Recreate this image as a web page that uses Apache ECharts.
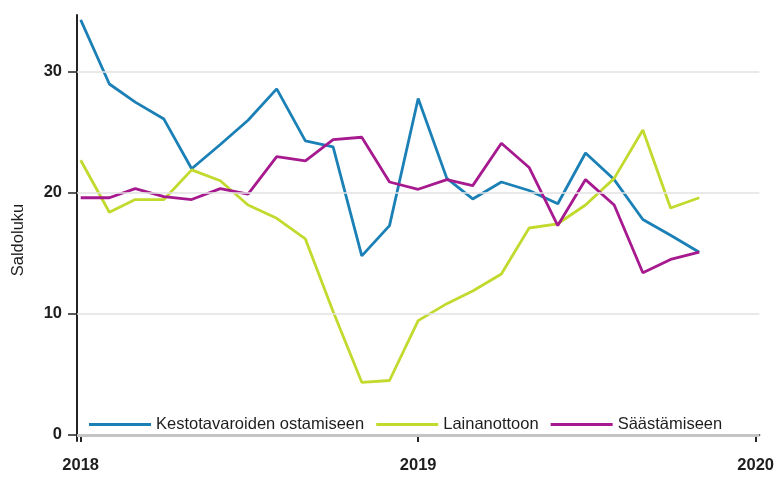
<!DOCTYPE html>
<html>
<head>
<meta charset="utf-8">
<script src="https://cdn.jsdelivr.net/npm/echarts@6/dist/echarts.min.js"></script>
<style>
html,body{margin:0;padding:0;background:#fff;}
#c{width:777px;height:477px;}
</style>
</head>
<body>
<div id="c"></div>
<script>
// Months (first day of month)
var months = ['2018-01','2018-02','2018-03','2018-04','2018-05','2018-06','2018-07','2018-08','2018-09','2018-10','2018-11','2018-12',
              '2019-01','2019-02','2019-03','2019-04','2019-05','2019-06','2019-07','2019-08','2019-09','2019-10','2019-11'];
var seriesNames = ['Kestotavaroiden ostamiseen','Lainanottoon','Säästämiseen'];
var kestotavarat = [34.3,29.0,27.5,26.1,22.0,24.0,26.0,28.6,24.3,23.8,14.8,17.3,27.8,21.2,19.5,20.9,20.2,19.1,23.3,21.1,17.8,16.5,15.1];
var lainanotto   = [22.7,18.4,19.45,19.45,21.9,21.0,19.0,17.9,16.2,10.2,4.35,4.5,9.45,10.85,11.9,13.3,17.1,17.45,19.0,21.2,25.2,18.75,19.6];
var saastaminen  = [19.6,19.6,20.35,19.7,19.45,20.35,19.9,23.0,22.65,24.4,24.6,20.9,20.3,21.1,20.6,24.1,22.1,17.3,21.1,19.0,13.4,14.5,15.1];
var yTicks = [0,10,20,30];
var xYears = [2018,2019,2020];

function ts(m){ var p = m.split('-'); return Date.UTC(+p[0], +p[1]-1, 1); }
function pairs(vals){ return months.map(function(m,i){ return [ts(m), vals[i]]; }); }
var yearTs = xYears.map(function(y){ return Date.UTC(y,0,1); });

var chart = echarts.init(document.getElementById('c'), null, {renderer:'canvas'});
var labelFont = {fontFamily:'Liberation Sans, Arial, sans-serif', fontSize:16.5, fontWeight:'bold', color:'#1e1e1e'};
chart.setOption({
  backgroundColor:'#ffffff',
  animation:false,
  grid:{left:77, right:17, top:15, bottom:36, containLabel:false},
  legend:{
    data:seriesNames,
    left:84, top:411,
    icon:'rect', itemWidth:62, itemHeight:3, itemGap:12,
    textStyle:{fontFamily:'Liberation Sans, Arial, sans-serif', fontSize:16.5, color:'#1e1e1e'}
  },
  graphic:[{
    type:'text', x:18, y:240, rotation:Math.PI/2,
    style:{text:'Saldoluku', fontFamily:'Liberation Sans, Arial, sans-serif', fontSize:16.5, fill:'#1e1e1e', align:'center', verticalAlign:'middle'}
  }],
  xAxis:{
    type:'value',
    min:Date.UTC(2017,11,28), max:Date.UTC(2020,0,5),
    axisLine:{show:true, lineStyle:{color:'#222', width:2}},
    axisTick:{show:true, length:7, lineStyle:{color:'#222', width:2}, customValues:yearTs},
    axisLabel:Object.assign({margin:16, customValues:yearTs, formatter:function(v){return String(new Date(v).getUTCFullYear());}}, labelFont),
    splitLine:{show:false}
  },
  yAxis:{
    type:'value', min:-0.5, max:34.7,
    axisLine:{show:true, lineStyle:{color:'#222', width:2}},
    axisTick:{show:true, inside:false, length:9, lineStyle:{color:'#222', width:1.5}, customValues:yTicks},
    axisLabel:Object.assign({margin:15, customValues:yTicks}, labelFont),
    splitLine:{show:false}
  },
  series:[
    {type:'line', name:'_grid', data:[], z:1, silent:true,
     markLine:{silent:true, symbol:['none','none'], label:{show:false},
       data:[
         {yAxis:10, lineStyle:{color:'#e2e2e2', width:1.5, type:'solid'}},
         {yAxis:20, lineStyle:{color:'#e2e2e2', width:1.5, type:'solid'}},
         {yAxis:30, lineStyle:{color:'#e2e2e2', width:1.5, type:'solid'}},
         {yAxis:0, lineStyle:{color:'#c4c4c4', width:3, type:'solid'}}
       ]}},
    {type:'line', name:seriesNames[0], data:pairs(kestotavarat), showSymbol:false, z:3,
     lineStyle:{color:'#1a80b6', width:2.8}, itemStyle:{color:'#1a80b6'}},
    {type:'line', name:seriesNames[1], data:pairs(lainanotto), showSymbol:false, z:3,
     lineStyle:{color:'#c2d92e', width:2.8}, itemStyle:{color:'#c2d92e'}},
    {type:'line', name:seriesNames[2], data:pairs(saastaminen), showSymbol:false, z:3,
     lineStyle:{color:'#a6198f', width:2.8}, itemStyle:{color:'#a6198f'}}
  ]
});
</script>
</body>
</html>
